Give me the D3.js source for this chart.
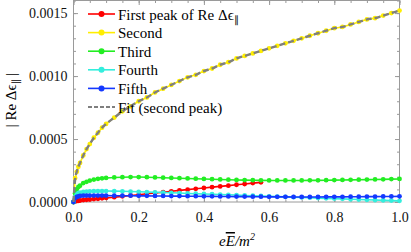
<!DOCTYPE html>
<html>
<head>
<meta charset="utf-8">
<script src="https://cdn.jsdelivr.net/npm/d3@7"></script>
<style>
  body { margin: 0; background: white; }
</style>
</head>
<body>
<div id="chart"></div>
<script>
// sample points along the field axis
var xs = [0, 0.005, 0.01, 0.015, 0.02, 0.03, 0.04, 0.05, 0.0625, 0.075, 0.0875, 0.1,
  0.125, 0.15, 0.175, 0.2, 0.225, 0.25, 0.275, 0.3, 0.325, 0.35, 0.375, 0.4,
  0.425, 0.45, 0.475, 0.5, 0.525, 0.55, 0.575, 0.6, 0.625, 0.65, 0.675, 0.7,
  0.725, 0.75, 0.775, 0.8, 0.825, 0.85, 0.875, 0.9, 0.925, 0.95, 0.975, 1.0]

var firstPeak = [0, 0.000005, 0.000008, 0.00001, 0.000012, 0.000015, 0.000018, 0.00002, 0.000023, 0.000026, 0.000029, 0.000032,
  0.000038, 0.000045, 0.000052, 0.000058, 0.000065, 0.000072, 0.000078, 0.000085, 0.000092, 0.000098, 0.000105, 0.000111,
  0.000118, 0.000124, 0.00013, 0.000137, 0.000143, 0.00015, 0.000156, null, null, null, null, null,
  null, null, null, null, null, null, null, null, null, null, null, null]

var secondPeak = [0, 0.00019, 0.00024, 0.00028, 0.00031, 0.00037, 0.00042, 0.00046, 0.00051, 0.00055, 0.00059, 0.00062,
  0.00067, 0.00072, 0.00076, 0.0008, 0.00083, 0.00087, 0.0009, 0.00093, 0.00096, 0.00099, 0.00101, 0.00104,
  0.00106, 0.00109, 0.00111, 0.00114, 0.00116, 0.00118, 0.0012, 0.00122, 0.00124, 0.00126, 0.00128, 0.0013,
  0.00132, 0.00134, 0.00136, 0.00138, 0.00139, 0.00141, 0.00143, 0.00145, 0.00146, 0.00148, 0.0015, 0.00152]

var thirdPeak = [0, 0.00007, 0.0001, 0.00012, 0.00013, 0.00015, 0.00016, 0.00017, 0.000178, 0.000184, 0.000188, 0.000191,
  0.000195, 0.000197, 0.000198, 0.000198, 0.000197, 0.000195, 0.000193, 0.000191, 0.000189, 0.000187, 0.000185, 0.000183,
  0.000181, 0.000179, 0.000177, 0.000175, 0.000174, 0.000173, 0.000172, 0.000171, 0.000171, 0.000171, 0.000171, 0.000171,
  0.000172, 0.000172, 0.000173, 0.000174, 0.000175, 0.000176, 0.000177, 0.000178, 0.000179, 0.00018, 0.000182, 0.000183]

var fourthPeak = [0, 0.00004, 0.00006, 0.00007, 0.000075, 0.00008, 0.000083, 0.000085, 0.000086, 0.000087, 0.000087, 0.000087,
  0.000086, 0.000085, 0.000083, 0.000081, 0.000079, 0.000077, 0.000075, 0.000073, 0.000071, 0.000068, 0.000066, 0.000064,
  0.000062, 0.000059, 0.000057, 0.000055, 0.000052, 0.00005, 0.000048, 0.000045, 0.000043, 0.000041, 0.000038, 0.000036,
  0.000034, 0.000031, 0.000029, 0.000027, 0.000025, 0.000022, 0.00002, 0.000018, 0.000016, 0.000013, 0.000011, 0.000009]

var fifthPeak = [0, 0.00003, 0.00004, 0.000045, 0.000048, 0.00005, 0.000051, 0.000051, 0.000051, 0.000051, 0.000051, 0.000051,
  0.00005, 0.00005, 0.00005, 0.000049, 0.000049, 0.000048, 0.000048, 0.000047, 0.000047, 0.000046, 0.000046, 0.000045,
  0.000045, 0.000044, 0.000044, 0.000043, 0.000043, 0.000042, 0.000042, 0.000041, 0.000041, 0.000041, 0.00004, 0.00004,
  0.00004, 0.00004, 0.000041, 0.000041, 0.000041, 0.000042, 0.000042, 0.000043, 0.000043, 0.000044, 0.000044, 0.000045]

var fitSecond = [0, 0.00018, 0.00024, 0.00028, 0.00031, 0.00037, 0.00042, 0.00046, 0.00051, 0.00055, 0.00059, 0.00062,
  0.00067, 0.00072, 0.00076, 0.0008, 0.00083, 0.00087, 0.0009, 0.00093, 0.00096, 0.00099, 0.00101, 0.00104,
  0.00106, 0.00109, 0.00111, 0.00114, 0.00116, 0.00118, 0.0012, 0.00122, 0.00124, 0.00126, 0.00128, 0.0013,
  0.00132, 0.00134, 0.00136, 0.00138, 0.00139, 0.00141, 0.00143, 0.00145, 0.00146, 0.00148, 0.0015, 0.00152]

var seriesNames = ["First peak of Re ", "Second", "Third", "Fourth", "Fifth"]
var seriesColors = ["#ff0000", "#ffee00", "#22ee22", "#33eedd", "#1438ff"]
var seriesValues = [firstPeak, secondPeak, thirdPeak, fourthPeak, fifthPeak]

var xTicks = [0, 0.2, 0.4, 0.6, 0.8, 1.0]
var yTicks = [0, 0.0005, 0.001, 0.0015]

var serif = "Liberation Serif"

var svgSize = { width: 411, height: 252 }
var margin = { top: 0.5, left: 73.5, right: 11.5, bottom: 50 }
var chartSize = {
  width: svgSize.width - margin.left - margin.right,
  height: 202 - margin.top
}

var svg = d3.select("#chart").append("svg")
  .attr("width", svgSize.width)
  .attr("height", svgSize.height)

var frame = svg.append("g")
  .attr("transform", `translate(${margin.left}, ${margin.top})`)

var xScale = d3.scaleLinear().domain([0, 1]).range([0, chartSize.width])
var yScale = d3.scaleLinear().domain([0, 0.0016]).range([chartSize.height, 0])

var axisColor = "#9a9a9a"
var minorX = d3.range(0, 1.0001, 0.05)
var minorY = d3.range(0, 0.00161, 0.0001)

function styleAxis(g) {
  g.select(".domain").remove()
  g.selectAll("line").attr("stroke", axisColor)
  g.selectAll("text").attr("font-size", 14).attr("fill", "#111")
}

// bottom / left with labels
frame.append("g").attr("transform", `translate(0, ${chartSize.height})`)
  .call(d3.axisBottom(xScale).tickValues(minorX).tickSize(-2.5).tickFormat(""))
  .call(styleAxis)
frame.append("g").attr("transform", `translate(0, ${chartSize.height})`)
  .call(d3.axisBottom(xScale).tickValues(xTicks).tickSize(-4.5).tickPadding(10).tickFormat(d3.format(".1f")))
  .call(styleAxis)
frame.append("g")
  .call(d3.axisLeft(yScale).tickValues(minorY).tickSize(-2.5).tickFormat(""))
  .call(styleAxis)
frame.append("g")
  .call(d3.axisLeft(yScale).tickValues(yTicks).tickSize(-4.5).tickPadding(6).tickFormat(d3.format(".4f")))
  .call(styleAxis)
// mirrored ticks on top / right
frame.append("g")
  .call(d3.axisTop(xScale).tickValues(minorX).tickSize(-2.5).tickFormat(""))
  .call(styleAxis)
frame.append("g")
  .call(d3.axisTop(xScale).tickValues(xTicks).tickSize(-4.5).tickFormat(""))
  .call(styleAxis)
frame.append("g").attr("transform", `translate(${chartSize.width}, 0)`)
  .call(d3.axisRight(yScale).tickValues(minorY).tickSize(-2.5).tickFormat(""))
  .call(styleAxis)
frame.append("g").attr("transform", `translate(${chartSize.width}, 0)`)
  .call(d3.axisRight(yScale).tickValues(yTicks).tickSize(-4.5).tickFormat(""))
  .call(styleAxis)

frame.append("rect")
  .attr("width", chartSize.width)
  .attr("height", chartSize.height)
  .attr("fill", "none")
  .attr("stroke", axisColor)
  .attr("stroke-width", 1)

var chartData = frame.append("g")

var line = d3.line()
  .defined(d => d[1] != null)
  .x(d => xScale(d[0]))
  .y(d => yScale(d[1]))

seriesValues.forEach((vals, i) => {
  var pts = xs.map((x, j) => [x, vals[j]])
  var g = chartData.append("g")
  g.append("path")
    .attr("d", line(pts))
    .attr("fill", "none")
    .attr("stroke", seriesColors[i])
    .attr("stroke-width", 1.6)
  g.selectAll("circle")
    .data(pts.filter(d => d[1] != null))
    .enter()
    .append("circle")
    .attr("cx", d => xScale(d[0]))
    .attr("cy", d => yScale(d[1]))
    .attr("r", 2.4)
    .attr("fill", seriesColors[i])
})

chartData.append("path")
  .attr("d", line.curve(d3.curveMonotoneX)(xs.map((x, j) => [x, fitSecond[j]])))
  .attr("fill", "none")
  .attr("stroke", "#7f7f7f")
  .attr("stroke-width", 2.4)
  .attr("stroke-dasharray", "6,3")

// legend
var legend = svg.append("g").attr("transform", "translate(88, 14)")
var rowH = 18.6
seriesNames.forEach((name, i) => {
  var row = legend.append("g").attr("transform", `translate(0, ${i * rowH})`)
  row.append("line").attr("x1", 0).attr("x2", 27)
    .attr("stroke", seriesColors[i]).attr("stroke-width", 1.6)
  row.append("circle").attr("cx", 13.5).attr("r", 3).attr("fill", seriesColors[i])
  var t = row.append("text").attr("x", 30).attr("y", 5.5).attr("font-size", 15).text(name)
  if (i == 0) {
    t.append("tspan").text("Δϵ")
    t.append("tspan").attr("font-size", 10).attr("dy", 3).text("∥")
  }
})
var fitRow = legend.append("g").attr("transform", `translate(0, ${5 * rowH})`)
fitRow.append("line").attr("x1", 0).attr("x2", 27)
  .attr("stroke", "#7f7f7f").attr("stroke-width", 2).attr("stroke-dasharray", "4,2")
fitRow.append("text").attr("x", 30).attr("y", 5.5).attr("font-size", 15).text("Fit (second peak)")

// axis titles
var yTitle = svg.append("text")
  .attr("transform", "translate(16, 100) rotate(-90)")
  .attr("text-anchor", "middle")
  .attr("font-size", 15)
yTitle.append("tspan").text("| Re Δϵ")
yTitle.append("tspan").attr("font-size", 10).attr("dy", 3).text("∥")
yTitle.append("tspan").attr("dy", -3).text(" |")

var xTitle = svg.append("text")
  .attr("x", 237)
  .attr("y", 246)
  .attr("text-anchor", "middle")
  .attr("font-size", 15)
  .attr("font-style", "italic")
xTitle.append("tspan").text("e")
xTitle.append("tspan").attr("text-decoration", "overline").text("E")
xTitle.append("tspan").text("/m")
xTitle.append("tspan").attr("font-size", 10).attr("dy", -6).text("2")

// force the serif face on every text node
svg.selectAll("text").style("font-family", serif)
</script>
</body>
</html>
